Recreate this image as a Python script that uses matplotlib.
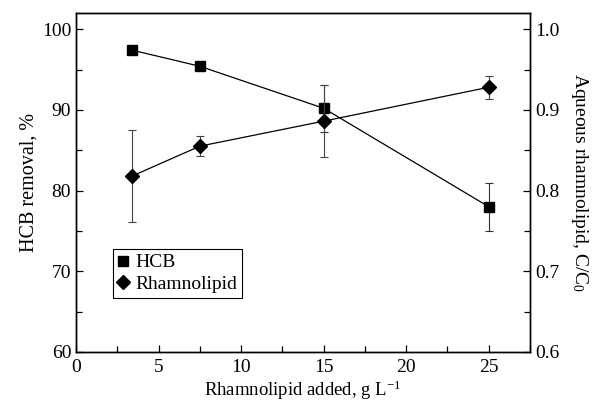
import matplotlib
matplotlib.use("Agg")
import matplotlib.pyplot as plt
from matplotlib.lines import Line2D
from matplotlib.ticker import MultipleLocator, FormatStrFormatter

plt.rcParams["font.family"] = ["Liberation Serif", "DejaVu Serif"]
plt.rcParams["mathtext.fontset"] = "custom"
plt.rcParams["mathtext.rm"] = "Liberation Serif"
plt.rcParams["mathtext.it"] = "Liberation Serif"

# data
dose       = [3.4, 7.5, 15, 25]
hcb        = [97.4, 95.4, 90.2, 78.0]
hcb_err    = [0.4, 0.5, 2.9, 3.0]
rhamno     = [0.818, 0.855, 0.886, 0.928]
rhamno_err = [0.0575, 0.0125, 0.045, 0.014]

fig = plt.figure(figsize=(5.92, 4.07), dpi=100)
ax = fig.add_axes([76 / 592, 1 - 352 / 407, (530 - 76) / 592, (352 - 13) / 407])
ax2 = ax.twinx()

ax.errorbar(dose, hcb, yerr=hcb_err, color="black", ecolor="#333333",
            elinewidth=0.8, capsize=3, capthick=0.8, lw=0.9,
            marker="s", ms=7)
ax2.errorbar(dose, rhamno, yerr=rhamno_err, color="black", ecolor="#444444",
             elinewidth=0.8, capsize=3, capthick=0.8, lw=0.9,
             marker="D", ms=7)

ax.set_xlim(0, 27.5)
ax.set_ylim(60, 102)
ax2.set_ylim(0.6, 1.02)

ax.xaxis.set_major_locator(MultipleLocator(5))
ax.xaxis.set_minor_locator(MultipleLocator(2.5))
ax.yaxis.set_major_locator(MultipleLocator(10))
ax.yaxis.set_minor_locator(MultipleLocator(5))
ax2.yaxis.set_major_locator(MultipleLocator(0.1))
ax2.yaxis.set_minor_locator(MultipleLocator(0.05))
ax2.yaxis.set_major_formatter(FormatStrFormatter("%.1f"))

for a in (ax, ax2):
    a.tick_params(which="both", direction="in", labelsize=14, width=0.9)
    a.tick_params(which="major", length=5)
    a.tick_params(which="minor", length=4)
    for s in a.spines.values():
        s.set_linewidth(1.0)
ax.tick_params(axis="x", which="both", top=False, pad=5)

ax.set_xlabel("Rhamnolipid added, g L$^{-1}$", fontsize=13.5, labelpad=2)
ax.set_ylabel("HCB removal, %", fontsize=14.5, labelpad=2)
ax2.set_ylabel("Aqueous rhamnolipid, C/C$_0$", fontsize=14,
               rotation=270, labelpad=22)

handles = [
    Line2D([], [], color="black", marker="s", ms=7, ls="none"),
    Line2D([], [], color="black", marker="D", ms=7, ls="none"),
]
leg = ax2.legend(handles, ["HCB", "Rhamnolipid"], loc="lower left",
                 bbox_to_anchor=(0.081, 0.16), fontsize=14,
                 fancybox=False, edgecolor="black", framealpha=1,
                 handlelength=0.6, handletextpad=0.3, borderpad=0.25,
                 labelspacing=0.2, borderaxespad=0)
leg.get_frame().set_linewidth(0.8)

fig.savefig("out.png", dpi=100)
